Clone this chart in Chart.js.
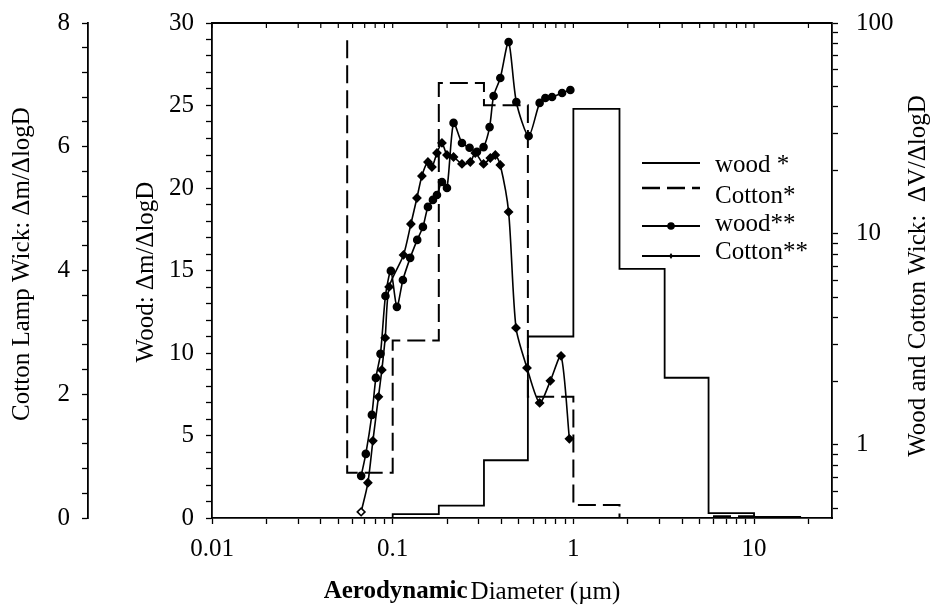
<!DOCTYPE html>
<html>
<head>
<meta charset="utf-8">
<script src="https://cdn.jsdelivr.net/npm/chart.js@4.4.0/dist/chart.umd.min.js"></script>
<style>
  html, body { margin: 0; padding: 0; background: #fff; }
</style>
</head>
<body>
<canvas id="sizeChart" width="940" height="610"></canvas>
<script>
// impactor stage edges (um) and stage values
const binEdges = [0.056, 0.1, 0.18, 0.32, 0.56, 1.0, 1.8, 3.2, 5.6, 10, 18];
const woodStar = [0, 0.24, 0.75, 3.5, 11.0, 24.8, 15.1, 8.5, 0.3, 0.06];
const cottonStar = [0.73, 2.87, 7.03, 6.67, 1.96, 0.21, 0, 0, 0.03, 0];
const cottonStarStart = 7.72;

// volume distributions (right log axis)
const woodDiam = [0.0669, 0.0710, 0.0767, 0.0807, 0.0856, 0.0912, 0.0977, 0.1055, 0.1139, 0.1250, 0.1367, 0.1470, 0.1567, 0.1670, 0.1758, 0.1874, 0.1997, 0.2172, 0.2418, 0.2665, 0.2928, 0.3184, 0.3438, 0.3618, 0.3941, 0.4381, 0.4834, 0.5655, 0.6506, 0.6997, 0.7621, 0.8660, 0.9625];
const woodVol = [0.713, 0.906, 1.387, 2.077, 2.700, 5.08, 6.68, 4.51, 6.05, 7.70, 9.37, 10.80, 13.43, 14.50, 15.30, 17.64, 16.52, 33.6, 27.0, 25.6, 24.5, 25.8, 32.1, 45.1, 54.9, 81.3, 42.2, 29.1, 41.8, 44.1, 44.6, 46.6, 48.1];
const cottonDiam = [0.0669, 0.0729, 0.0777, 0.0834, 0.0871, 0.0909, 0.0956, 0.1148, 0.1261, 0.1362, 0.1451, 0.1567, 0.1649, 0.1758, 0.1874, 0.1997, 0.2172, 0.2418, 0.2689, 0.2865, 0.3184, 0.3469, 0.3698, 0.3941, 0.4381, 0.4815, 0.5539, 0.6506, 0.7458, 0.8551, 0.9502];
const cottonVol = [0.481, 0.661, 1.045, 1.689, 2.267, 3.215, 5.61, 7.95, 11.15, 14.81, 18.83, 21.94, 20.77, 24.20, 27.0, 23.68, 23.17, 21.47, 21.94, 24.20, 21.47, 22.92, 23.68, 21.23, 12.72, 3.585, 2.317, 1.581, 2.011, 2.641, 1.068];

const xTickLabels = [0.01, 0.1, 1, 10];
const volTickLabels = [1, 10, 100];
const legendNames = ['wood *', 'Cotton*', 'wood**', 'Cotton**'];

const FONT = 'Liberation Serif';

function stepPoints(edges, vals, start) {
    const pts = [{x: edges[0], y: start}];
    vals.forEach((v, i) => pts.push({x: edges[i], y: v}));
    pts.push({x: edges[vals.length], y: 0});
    return pts;
}

function pairs(xs, ys) {
    return xs.map((x, i) => ({x: x, y: ys[i]}));
}

function logTicks(lo, hi) {
    const out = [];
    for (let e = -3; e <= 3; e++) {
        for (let m = 1; m <= 9; m++) {
            const v = +(m * Math.pow(10, e)).toPrecision(3);
            if (v >= lo - 1e-9 && v <= hi + 1e-9) out.push({value: v});
        }
    }
    return out;
}

function linTicks(max, step) {
    const out = [];
    for (let v = 0; v <= max + 1e-9; v += step) out.push({value: +v.toFixed(3)});
    return out;
}

// fixed box sizes so the plot area lands where the original has it
function fixSize(w, h) {
    return s => {
        if (w) s.width = w;
        if (h) s.height = h;
        s.paddingTop = 0;
        s.paddingBottom = 0;
        s.paddingLeft = 0;
        s.paddingRight = 0;
    };
}

const axisBase = {
    grid: { drawOnChartArea: false, color: '#000', tickColor: '#000', tickLength: 6, tickWidth: 1.3 },
    border: { color: '#000', width: 1.8 },
    ticks: { color: '#000', font: { family: FONT, size: 25 }, autoSkip: false, maxRotation: 0 }
};

const framePlugin = {
    id: 'frame',
    afterDraw(chart) {
        const ctx = chart.ctx;
        const a = chart.chartArea;
        ctx.save();
        ctx.strokeStyle = '#000';
        ctx.lineWidth = 1.8;
        ctx.beginPath();
        ctx.moveTo(a.left, a.top);
        ctx.lineTo(a.right, a.top);
        ctx.stroke();
        // small inward ticks on the top edge
        ctx.lineWidth = 1.2;
        const xs = chart.scales.x;
        xs.ticks.forEach(t => {
            const px = xs.getPixelForValue(t.value);
            ctx.beginPath();
            ctx.moveTo(px, a.top);
            ctx.lineTo(px, a.top + 5);
            ctx.stroke();
        });

        // legend
        const lx = 642, lw = 58, tx = 715;
        const lineY = [163, 188, 226, 256];
        const textY = [165, 196, 224, 252];
        ctx.font = '25px ' + FONT;
        ctx.fillStyle = '#000';
        ctx.textBaseline = 'middle';
        lineY.forEach((y, i) => {
            ctx.beginPath();
            ctx.lineWidth = i === 1 ? 2.6 : 1.8;
            ctx.setLineDash(i === 1 ? [18, 7] : []);
            ctx.moveTo(lx, y);
            ctx.lineTo(lx + lw, y);
            ctx.stroke();
            ctx.setLineDash([]);
            if (i === 2) {
                ctx.beginPath();
                ctx.arc(lx + lw / 2, y, 3.8, 0, Math.PI * 2);
                ctx.fill();
            } else if (i === 3) {
                ctx.beginPath();
                ctx.moveTo(lx + lw / 2, y - 3);
                ctx.lineTo(lx + lw / 2 + 2, y);
                ctx.lineTo(lx + lw / 2, y + 3);
                ctx.lineTo(lx + lw / 2 - 2, y);
                ctx.closePath();
                ctx.fill();
            }
            ctx.fillText(legendNames[i], tx, textY[i]);
        });

        // axis titles
        ctx.font = '25px ' + FONT;
        ctx.textAlign = 'center';
        const vt = (text, x, y) => {
            ctx.save();
            ctx.translate(x, y);
            ctx.rotate(-Math.PI / 2);
            ctx.fillText(text, 0, 0);
            ctx.restore();
        };
        vt('Cotton Lamp Wick: \u0394m/\u0394logD', 22, 264);
        vt('Wood: \u0394m/\u0394logD', 146, 272);
        vt('Wood and Cotton Wick:  \u0394V/\u0394logD', 918, 276);

        ctx.textAlign = 'left';
        const bold = 'bold 25px ' + FONT, reg = '25px ' + FONT;
        ctx.font = bold;
        const w1 = ctx.measureText('Aerodynamic').width + 3;
        ctx.font = reg;
        const w2 = ctx.measureText('Diameter (\u00b5m)').width;
        const x0 = 472 - (w1 + w2) / 2;
        ctx.font = bold;
        ctx.fillText('Aerodynamic', x0, 592);
        ctx.font = reg;
        ctx.fillText('Diameter (\u00b5m)', x0 + w1, 592);
        ctx.restore();
    }
};

const ctx = document.getElementById('sizeChart').getContext('2d');
new Chart(ctx, {
    type: 'line',
    data: {
        datasets: [{
            label: legendNames[0],
            data: stepPoints(binEdges, woodStar, 0),
            yAxisID: 'yWood',
            borderColor: '#000',
            borderWidth: 1.8,
            pointRadius: 0,
            stepped: 'before'
        }, {
            label: legendNames[1],
            data: stepPoints(binEdges, cottonStar, cottonStarStart),
            yAxisID: 'yCot',
            borderColor: '#000',
            borderWidth: 2,
            borderDash: [18, 7],
            pointRadius: 0,
            stepped: 'before'
        }, {
            label: legendNames[2],
            data: pairs(woodDiam, woodVol),
            yAxisID: 'yVol',
            borderColor: '#000',
            borderWidth: 1.6,
            tension: 0.25,
            pointStyle: 'circle',
            pointRadius: 3.5,
            pointBackgroundColor: '#000',
            pointBorderColor: '#000'
        }, {
            label: legendNames[3],
            data: pairs(cottonDiam, cottonVol),
            yAxisID: 'yVol',
            borderColor: '#000',
            borderWidth: 1.6,
            tension: 0.25,
            pointStyle: 'rectRot',
            pointRadius: 3.8,
            pointBackgroundColor: c => c.dataIndex === 0 ? '#fff' : '#000',
            pointBorderColor: '#000'
        }]
    },
    options: {
        responsive: false,
        animation: false,
        events: [],
        layout: { padding: { left: 0, right: 0, top: 23, bottom: 0 } },
        plugins: { legend: { display: false }, tooltip: { enabled: false } },
        scales: {
            x: {
                ...axisBase,
                type: 'logarithmic',
                position: 'bottom',
                min: 0.01,
                max: 27,
                afterBuildTicks: s => { s.ticks = logTicks(0.01, 27); },
                afterFit: fixSize(0, 92),
                ticks: { ...axisBase.ticks, padding: 10,
                    callback: v => xTickLabels.includes(v) ? String(v) : '' }
            },
            yWood: {
                ...axisBase,
                type: 'linear',
                position: 'left',
                weight: 0,
                min: 0,
                max: 30,
                afterBuildTicks: s => { s.ticks = linTicks(30, 1); },
                afterFit: fixSize(124, 0),
                ticks: { ...axisBase.ticks, padding: 12,
                    callback: v => v % 5 === 0 ? String(v) : '' }
            },
            yCot: {
                ...axisBase,
                type: 'linear',
                position: 'left',
                weight: 1,
                min: 0,
                max: 8,
                afterBuildTicks: s => { s.ticks = linTicks(8, 0.4); },
                afterFit: fixSize(88, 0),
                ticks: { ...axisBase.ticks, padding: 12,
                    callback: v => Math.abs(v / 2 - Math.round(v / 2)) < 1e-6 ? String(Math.round(v)) : '' }
            },
            yVol: {
                ...axisBase,
                type: 'logarithmic',
                position: 'right',
                min: 0.45,
                max: 100,
                afterBuildTicks: s => { s.ticks = logTicks(0.45, 100); },
                afterFit: fixSize(108, 0),
                ticks: { ...axisBase.ticks, padding: 18,
                    callback: v => volTickLabels.includes(v) ? String(v) : '' }
            }
        }
    },
    plugins: [framePlugin]
});
</script>
</body>
</html>
